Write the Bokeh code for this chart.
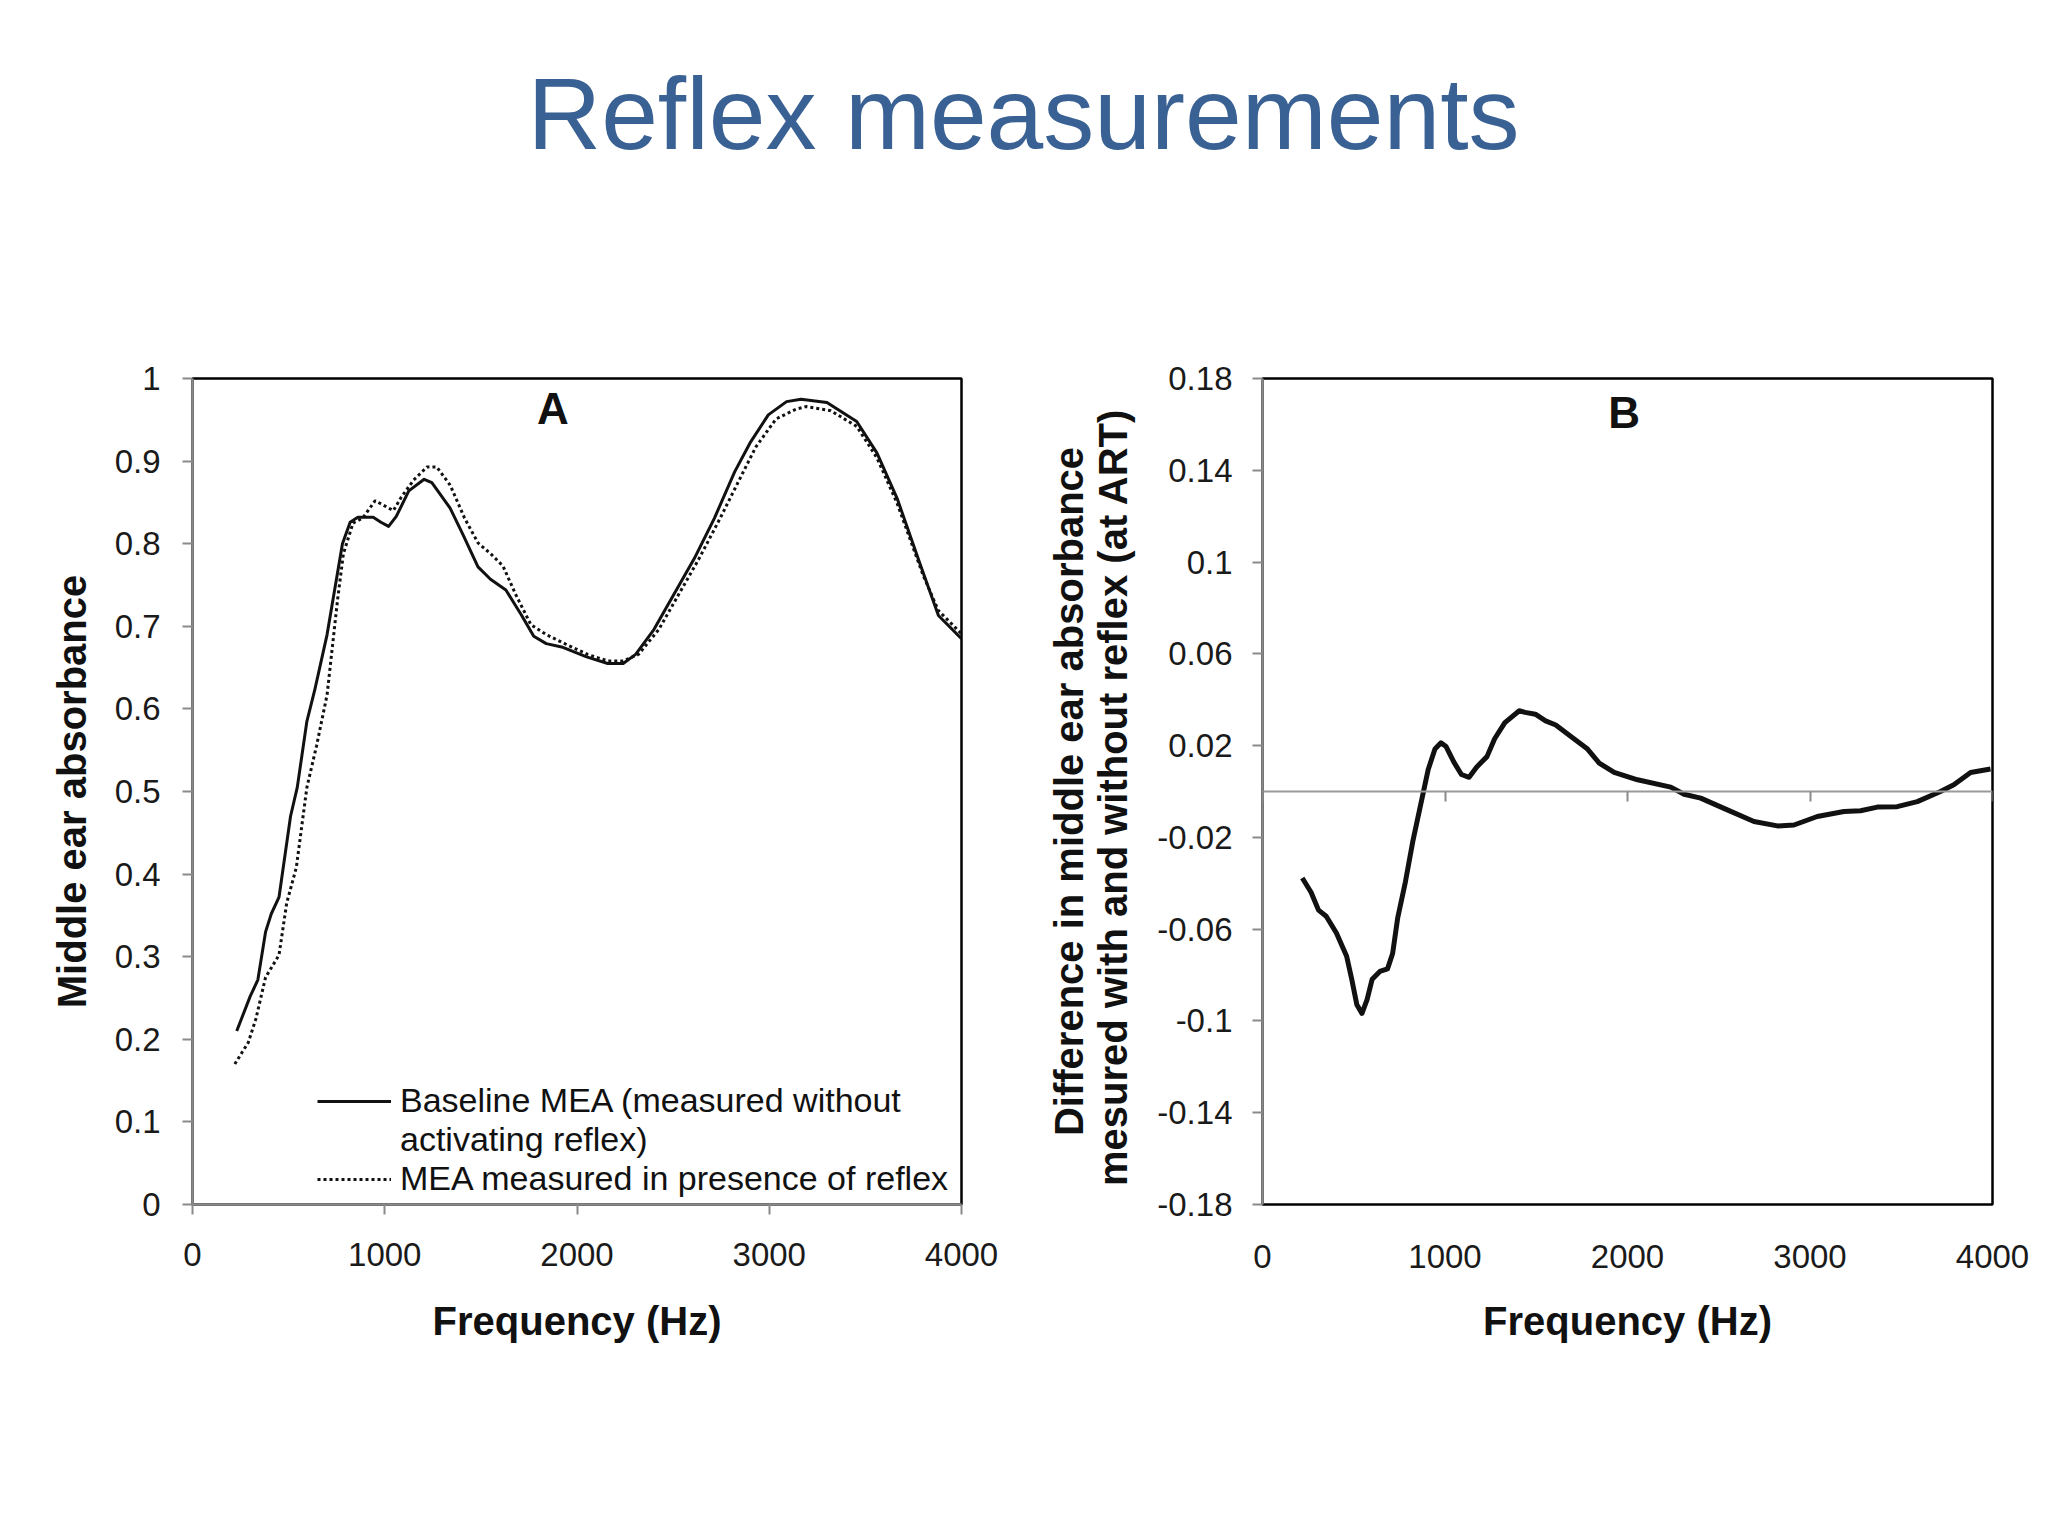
from bokeh.plotting import figure
from bokeh.models import (Range1d, FixedTicker, CustomJSTickFormatter, Label, Legend,
                          LegendItem, LinearAxis)
from bokeh.layouts import column, row
from bokeh.embed import file_html
from bokeh.resources import INLINE

# ---------------- data ----------------
title_text = "Reflex measurements"

freq_base = [230, 300, 340, 380, 410, 450, 510, 545, 595, 635, 700, 780, 820, 860, 940, 980,
             1020, 1060, 1125, 1205, 1245, 1340, 1405, 1485, 1550, 1630, 1710, 1775, 1840,
             1920, 2050, 2160, 2240, 2305, 2400, 2505, 2610, 2715, 2820, 2900, 2995, 3090,
             3165, 3300, 3455, 3560, 3665, 3785, 3880, 4000]
mea_base = [0.21, 0.252, 0.272, 0.33, 0.352, 0.372, 0.47, 0.505, 0.585, 0.622, 0.69, 0.80,
            0.826, 0.832, 0.832, 0.826, 0.821, 0.833, 0.864, 0.878, 0.874, 0.843, 0.812,
            0.772, 0.757, 0.744, 0.714, 0.688, 0.679, 0.675, 0.663, 0.655, 0.655, 0.666,
            0.696, 0.739, 0.782, 0.831, 0.887, 0.922, 0.956, 0.972, 0.975, 0.971, 0.948,
            0.910, 0.855, 0.775, 0.713, 0.685]

freq_reflex = [220, 260, 290, 330, 380, 450, 490, 540, 595, 645, 700, 755, 785, 835, 885,
               950, 990, 1045, 1085, 1150, 1220, 1270, 1340, 1415, 1485, 1550, 1615, 1680,
               1760, 1840, 1945, 2055, 2160, 2240, 2320, 2425, 2530, 2635, 2745, 2850, 2930,
               3035, 3140, 3190, 3320, 3455, 3560, 3665, 3800, 3880, 4000]
mea_reflex = [0.17, 0.185, 0.196, 0.225, 0.275, 0.302, 0.365, 0.408, 0.505, 0.555, 0.617,
              0.733, 0.788, 0.825, 0.831, 0.852, 0.847, 0.840, 0.856, 0.877, 0.893, 0.893,
              0.871, 0.831, 0.801, 0.788, 0.773, 0.739, 0.702, 0.690, 0.678, 0.666, 0.658,
              0.658, 0.666, 0.696, 0.739, 0.782, 0.831, 0.880, 0.917, 0.951, 0.963, 0.966,
              0.961, 0.942, 0.904, 0.849, 0.762, 0.719, 0.691]

freq_diff = [218, 266, 307, 349, 405, 461, 489, 517, 545, 573, 601, 643, 685, 713, 741, 783,
             824, 866, 908, 945, 978, 1006, 1048, 1090, 1132, 1174, 1230, 1272, 1328, 1407,
             1439, 1495, 1551, 1607, 1690, 1781, 1845, 1927, 2055, 2237, 2310, 2401, 2547,
             2693, 2821, 2912, 3040, 3186, 3277, 3369, 3478, 3588, 3715, 3788, 3880, 3989]
mea_diff = [-0.0377, -0.0439, -0.0517, -0.0544, -0.0617, -0.0718, -0.0818, -0.0929, -0.0967,
            -0.0907, -0.0818, -0.0784, -0.0773, -0.0706, -0.0550, -0.0394, -0.0216, -0.0060,
            0.0096, 0.0185, 0.0212, 0.0196, 0.0129, 0.0074, 0.0062, 0.0107, 0.0152, 0.0230,
            0.0300, 0.0352, 0.0345, 0.0337, 0.0308, 0.0290, 0.0240, 0.0185, 0.0124, 0.0083,
            0.0051, 0.0019, -0.0012, -0.0029, -0.0080, -0.0131, -0.0150, -0.0146, -0.0109,
            -0.0087, -0.0084, -0.0068, -0.0066, -0.0044, 0.0, 0.0029, 0.0083, 0.0098]

x_ticks = [0, 1000, 2000, 3000, 4000]
ya_ticks = [0, 0.1, 0.2, 0.3, 0.4, 0.5, 0.6, 0.7, 0.8, 0.9, 1.0]
yb_ticks = [-0.18, -0.14, -0.1, -0.06, -0.02, 0.02, 0.06, 0.1, 0.14, 0.18]

legend_labels = ["Baseline MEA (measured without", "activating reflex)",
                 "MEA measured in presence of reflex"]
xlabel = "Frequency (Hz)"
ylabel_a = "Middle ear absorbance"
ylabel_b = "Difference in middle ear absorbance\nmesured with and without  reflex (at ART)"

# ---------------- styling ----------------
FONT = "Liberation Sans"
INK = "#111111"
GRID_GRAY = "#8a8a8a"
fmt = CustomJSTickFormatter(code="return String(Math.round(tick*1000)/1000);")


def style_axes(p):
    for ax in p.axis:
        ax.major_label_text_font = FONT
        ax.major_label_text_font_size = "33px"
        ax.major_label_text_color = "#1a1a1a"
        ax.axis_label_text_font = FONT
        ax.axis_label_text_font_size = "40px"
        ax.axis_label_text_font_style = "bold"
        ax.axis_label_text_color = INK
        ax.minor_tick_line_color = None
        ax.major_tick_in = 0
        ax.major_tick_out = 10
        ax.major_tick_line_color = GRID_GRAY
        ax.major_tick_line_width = 2
        ax.axis_line_color = GRID_GRAY
        ax.axis_line_width = 2.5


# ---------------- title ----------------
pt = figure(width=2040, height=260, x_range=Range1d(0, 2040), y_range=Range1d(0, 260),
            x_axis_type=None, y_axis_type=None, toolbar_location=None,
            output_backend="svg", min_border=0)
pt.title = None
pt.outline_line_color = None
pt.grid.visible = False
pt.add_layout(Label(x=1023, y=147, text=title_text, text_align="center",
                    text_baseline="alphabetic", text_font=FONT, text_font_size="102px",
                    text_color="#3a6193"))

# ---------------- panel A ----------------
pA = figure(width=1020, height=1151, x_range=Range1d(0, 4000), y_range=Range1d(0, 1),
            toolbar_location=None, output_backend="svg",
            min_border_left=192, min_border_right=59, min_border_top=118,
            min_border_bottom=207)
pA.title = None
pA.grid.visible = False
pA.outline_line_color = "#000000"
pA.outline_line_width = 2.5
pA.xaxis.ticker = FixedTicker(ticks=x_ticks)
pA.yaxis.ticker = FixedTicker(ticks=ya_ticks)
pA.xaxis.axis_label = xlabel
pA.yaxis.axis_label = ylabel_a
style_axes(pA)
pA.xaxis.formatter = fmt
pA.yaxis.formatter = fmt
pA.yaxis.major_label_standoff = 22
pA.xaxis.major_label_standoff = 28
pA.yaxis.axis_label_standoff = 18
pA.xaxis.axis_label_standoff = 30

r_base = pA.line(freq_base, mea_base, line_color=INK, line_width=3, line_join="round")
r_refl = pA.line(freq_reflex, mea_reflex, line_color=INK, line_width=3, line_dash="3 3")
r_blank = pA.line([], [], line_alpha=0)

legend = Legend(items=[LegendItem(label=legend_labels[0], renderers=[r_base]),
                       LegendItem(label=legend_labels[1], renderers=[r_blank]),
                       LegendItem(label=legend_labels[2], renderers=[r_refl])],
                location=(125, 6), orientation="vertical", padding=0, margin=0,
                spacing=0, glyph_width=74, glyph_height=36, label_height=36,
                label_standoff=9, border_line_color=None, background_fill_alpha=0,
                label_text_font=FONT, label_text_font_size="34px", label_text_color=INK)
pA.add_layout(legend)
pA.add_layout(Label(x=1874, y=0.964, text="A", text_align="center", text_baseline="middle",
                    text_font=FONT, text_font_size="44px", text_font_style="bold",
                    text_color=INK))

# ---------------- panel B ----------------
pB = figure(width=1020, height=1151, x_range=Range1d(0, 4000), y_range=Range1d(-0.18, 0.18),
            toolbar_location=None, output_backend="svg",
            min_border_left=242, min_border_right=48, min_border_top=118,
            min_border_bottom=207)
pB.title = None
pB.grid.visible = False
pB.outline_line_color = "#000000"
pB.outline_line_width = 2.5
pB.xaxis.ticker = FixedTicker(ticks=x_ticks)
pB.yaxis.ticker = FixedTicker(ticks=yb_ticks)
pB.xaxis.axis_label = xlabel
pB.yaxis.axis_label = ylabel_b
zero_axis = LinearAxis(ticker=FixedTicker(ticks=x_ticks), fixed_location=0,
                       formatter=CustomJSTickFormatter(code="return '';"))
pB.add_layout(zero_axis, "below")
style_axes(pB)
pB.xaxis[0].formatter = fmt
pB.yaxis.formatter = fmt
pB.xaxis[0].axis_line_color = None
pB.xaxis[0].major_tick_line_color = None
pB.xaxis[0].major_tick_out = 0
pB.xaxis[0].major_label_standoff = 40
pB.xaxis[0].axis_label_standoff = 28
zero_axis.axis_line_color = "#9a9a9a"
zero_axis.axis_line_width = 2
zero_axis.major_tick_out = 10
zero_axis.major_label_standoff = 0
pB.yaxis.major_label_standoff = 20
pB.yaxis.axis_label_standoff = 19
pB.yaxis.axis_label_text_line_height = 1.0

pB.line(freq_diff, mea_diff, line_color=INK, line_width=5, line_join="round")
pB.add_layout(Label(x=1982, y=0.165, text="B", text_align="center", text_baseline="middle",
                    text_font=FONT, text_font_size="44px", text_font_style="bold",
                    text_color=INK))

layout = column(pt, row(pA, pB, spacing=0), spacing=0)
open("out.html", "w").write(file_html(layout, INLINE))
